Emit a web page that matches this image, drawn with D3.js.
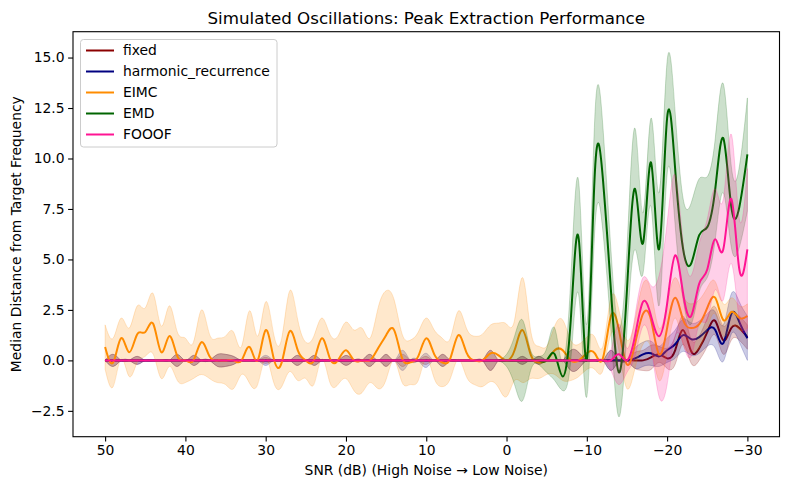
<!DOCTYPE html>
<html>
<head>
<meta charset="utf-8">
<script src="https://cdn.jsdelivr.net/npm/d3@7"></script>
<style>
  html, body { margin: 0; padding: 0; background: #fff; }
  svg { display: block; font-family: "DejaVu Sans", sans-serif; }
</style>
</head>
<body>
<svg id="chart" width="790" height="490"></svg>
<script>
// SNR grid (dB), high noise -> low noise
const snr = [50,49,48,47,46,45,44,43,42,41,40,39,38,37,36,35,34,33,32,31,30,29,28,27,26,25,24,23,22,21,20,19,18,17,16,15,14,13,12,11,10,9,8,7,6,5,4,3,2,1,0,-1,-2,-3,-4,-5,-6,-7,-8,-9,-10,-11,-12,-13,-14,-15,-16,-17,-18,-19,-20,-21,-22,-23,-24,-25,-26,-27,-28,-29,-30];

const methods = ["fixed", "harmonic_recurrence", "EIMC", "EMD", "FOOOF"];

// median distance from target frequency per method (index aligned with snr)
const fixedMed = [0,0,0,0,0,0,0,0,0,0, 0,0,0,0,0,0,0,0,0,0, 0,0,0,0,0,0,0,0,0,0, 0,0,0,0,0,0,0,0,0,0, 0,0,0,0,0,0,0,0,0,0, 0,0,0,0,0,0,0,0,0,0, 0,0,0,0,0,0,0,0,0.15,0.3, 0.1,0.5,1.5,0.45,0.6,1.4,1.95,1.0,1.6,1.6, 1.15];
const fixedSd = [0,0.3,0,0,0.2,0,0,0,0,0.3, 0,0.25,0,0,0.3,0.3,0.2,0,0,0, 0.15,0,0,0,0.25,0,0.25,0,0,0, 0.25,0,0,0.3,0,0.3,0,0.3,0,0, 0.2,0,0.3,0,0,0,0,0,0.5,0, 0,0,0.2,0,0.2,0,0,0,0.5,0.4, 0,0,0,0.5,0,0,0.4,0.5,0.6,0.4, 0.5,0.7,0.7,0.6,0.6,0.7,0.7,0.7,0.6,0.6, 0.6];

const harmMed = [0,0,0,0,0,0,0,0,0,0, 0,0,0,0,0,0,0,0,0,0, 0,0,0,0,0,0,0,0,0,0, 0,0,0,0,0,0,0,0,0,0, 0,0,0,0,0,0,0,0,0,0, 0,0,0,0,0,0,0,0,0,0, 0,0,0,0,0,0,0.1,0.3,0.35,0.2, 0.5,0.8,1.25,1.05,1.15,1.5,1.5,0.85,2.3,1.9, 1.1];
const harmSd = [0,0.3,0,0,0.2,0,0,0,0,0.3, 0,0.25,0,0,0.3,0.3,0.2,0,0,0, 0.25,0,0,0,0.25,0,0.25,0,0,0, 0.25,0,0,0.3,0,0.3,0,0.5,0,0, 0.35,0,0.3,0,0,0,0,0,0.5,0, 0,0,0.2,0,0.2,0,0,0,0.5,0.4, 0,0,0,0.5,0,0,0.5,0.6,0.6,0.5, 0.6,0.7,0.8,0.8,0.8,0.8,0.9,0.9,1.0,1.0, 1.1];

const eimcMed = [0.66,-0.1,1.1,0.4,1.3,1.4,1.8,0.4,1.2,0.2, 0,0,0.9,0.2,0,0,0,0,0.66,0, 1.5,0.1,-0.1,1.45,0.5,0,0,1.1,0.1,0, 0.5,0,0,0,0.6,1.25,1.5,0.1,-0.1,0.2, 1.1,0.3,-0.1,0.1,1.25,0.4,0,0,0.35,0.25, 0,0.5,1.5,0.3,-0.1,0,0.5,0.5,0,0, 0.35,0.35,0.1,2.2,1.5,-0.2,0.8,2.3,2.0,0.3, 1.6,3.1,2.0,1.6,1.8,2.6,3.1,2.0,2.4,2.1, 2.2];
const eimcSd = [1.1,1.2,1.0,1.2,1.4,1.2,1.5,1.3,1.5,1.2, 1.1,0.9,1.6,1.1,1.1,1.2,1.4,0.7,1.8,1.2, 1.4,1.2,1.2,2.0,1.5,0.9,1.2,1.0,1.2,1.2, 1.4,1.5,1.6,1.1,2.0,2.2,1.5,1.2,1.1,1.2, 1.0,1.2,1.2,1.0,1.2,1.2,1.2,1.3,1.4,1.6, 1.8,1.5,2.6,1.2,0.8,0.7,1.2,1.5,1.0,0.8, 0.8,0.8,0.6,0.9,1.0,1.2,1.2,1.5,1.4,1.3, 1.2,1.0,1.2,1.2,1.2,1.0,0.8,0.8,0.7,0.6, 0.6];

// EMD only reports values from 1 dB downwards (null = no value)
const emdMed = [null,null,null,null,null,null,null,null,null,null, null,null,null,null,null,null,null,null,null,null, null,null,null,null,null,null,null,null,null,null, null,null,null,null,null,null,null,null,null,null, null,null,null,null,null,null,null,null,null,0, 0,0,0,0,0,0,0.3,-0.8,2.0,6.0, 0.0,9.3,9.0,3.5,-0.6,3.5,8.5,5.8,9.8,5.5, 12.0,9.5,5.5,4.8,6.2,6.6,8.5,11.0,7.6,7.6, 10.2];
const emdSd = [null,null,null,null,null,null,null,null,null,null, null,null,null,null,null,null,null,null,null,null, null,null,null,null,null,null,null,null,null,null, null,null,null,null,null,null,null,null,null,null, null,null,null,null,null,null,null,null,null,0, 0.3,1.2,2.0,0.5,0.2,0.6,1.3,0.7,2.0,2.8, 1.8,2.8,2.6,2.0,2.2,2.0,3.0,1.5,2.2,2.8, 2.8,2.8,2.5,3.0,2.8,2.5,2.5,2.7,2.0,2.0, 2.8];

const fooofMed = [0,0,0,0,0,0,0,0,0,0, 0,0,0,0,0,0,0,0,0,0, 0,0,0,0,0,0,0,0,0,0, 0,0,0,0,0,0,0,0,0,0, 0,0,0,0,0,0,0,0,0,0, 0,0,0,0,0,0,0,0,0,0, 0,0,0,0,0.3,0.0,1.2,2.9,2.2,1.2, 2.8,5.2,3.3,2.2,3.8,4.5,6.0,5.5,8.0,4.5, 5.5];
const fooofSd = [0,0,0,0,0,0,0,0,0,0, 0,0,0,0,0,0,0,0,0,0, 0,0,0,0,0,0,0,0,0,0, 0,0,0,0,0,0,0,0,0,0, 0,0,0,0,0,0,0,0,0,0, 0,0,0,0,0,0,0,0,0,0, 0,0,0,0.5,1.5,0.6,1.0,1.2,1.5,3.0, 4.0,4.0,2.5,2.0,2.0,2.5,2.5,2.5,3.2,2.5, 4.0];

const xTicks = [50, 40, 30, 20, 10, 0, -10, -20, -30];
const yTicks = [-2.5, 0, 2.5, 5, 7.5, 10, 12.5, 15];

const colors = ["#8b0000", "#000080", "#ff8c00", "#006400", "#ff1493"];
const series = [
  { name: methods[0], med: fixedMed, sd: fixedSd, color: colors[0] },
  { name: methods[1], med: harmMed, sd: harmSd, color: colors[1] },
  { name: methods[2], med: eimcMed, sd: eimcSd, color: colors[2] },
  { name: methods[3], med: emdMed, sd: emdSd, color: colors[3] },
  { name: methods[4], med: fooofMed, sd: fooofSd, color: colors[4] }
];

const svg = d3.select("#chart");
const L = 73, R = 779.5, T = 31.7, B = 436.7;
const x = d3.scaleLinear().domain([54, -34]).range([L, R]);
const y = d3.scaleLinear().domain([-3.78, 16.28]).range([B, T]);
const fmtMinus = s => s.replace("-", "\u2212");

svg.append("defs").append("clipPath").attr("id", "plotclip")
  .append("rect").attr("x", L).attr("y", T).attr("width", R - L).attr("height", B - T);

const plot = svg.append("g").attr("clip-path", "url(#plotclip)");

series.forEach(s => {
  const pts = snr.map((d, i) => ({ x: d, m: s.med[i], sd: s.sd[i] }))
                 .filter(p => p.m !== null && p.m !== undefined);
  const area = d3.area()
    .x(p => x(p.x)).y0(p => y(p.m - p.sd)).y1(p => y(p.m + p.sd))
    .curve(d3.curveNatural);
  plot.append("path").attr("d", area(pts))
    .attr("fill", s.color).attr("fill-opacity", 0.2)
    .attr("stroke", s.color).attr("stroke-opacity", 0.2).attr("stroke-width", 1);
  const line = d3.line().x(p => x(p.x)).y(p => y(p.m)).curve(d3.curveNatural);
  plot.append("path").attr("d", line(pts))
    .attr("fill", "none").attr("stroke", s.color).attr("stroke-width", 2)
    .attr("stroke-linejoin", "round").attr("stroke-linecap", "butt");
});

// axes
const xAxis = d3.axisBottom(x).tickValues(xTicks).tickSize(4.9).tickPadding(3.5)
  .tickFormat(d => fmtMinus(d3.format("d")(d)));
const yAxis = d3.axisLeft(y).tickValues(yTicks).tickSize(4.9).tickPadding(3.5)
  .tickFormat(d => fmtMinus(d3.format(".1f")(d)));

const gx = svg.append("g").attr("transform", `translate(0,${B})`).call(xAxis);
const gy = svg.append("g").attr("transform", `translate(${L},0)`).call(yAxis);
[gx, gy].forEach(g => {
  g.select(".domain").remove();
  g.selectAll(".tick line").attr("stroke", "#000").attr("stroke-width", 1.1);
  g.selectAll(".tick text").attr("fill", "#000").attr("font-size", "13.9px")
    .attr("font-family", "DejaVu Sans, sans-serif");
});

// frame
svg.append("rect").attr("x", L).attr("y", T).attr("width", R - L).attr("height", B - T)
  .attr("fill", "none").attr("stroke", "#000").attr("stroke-width", 1.1);

// titles
svg.append("text").attr("x", (L + R) / 2).attr("y", 23.5).attr("text-anchor", "middle")
  .attr("font-size", "16.7px").attr("fill", "#000")
  .text("Simulated Oscillations: Peak Extraction Performance");
svg.append("text").attr("x", (L + R) / 2).attr("y", 475).attr("text-anchor", "middle")
  .attr("font-size", "13.9px").attr("fill", "#000")
  .text("SNR (dB) (High Noise \u2192 Low Noise)");
svg.append("text").attr("transform", `translate(21,${(T + B) / 2}) rotate(-90)`)
  .attr("text-anchor", "middle").attr("font-size", "13.9px").attr("fill", "#000")
  .text("Median Distance from Target Frequency");

// legend
const lg = svg.append("g");
lg.append("rect").attr("x", 80.5).attr("y", 39.5).attr("width", 196.5).attr("height", 107.5)
  .attr("rx", 3).attr("fill", "#fff").attr("fill-opacity", 0.8)
  .attr("stroke", "#cccccc").attr("stroke-width", 1);
series.forEach((s, i) => {
  const cy = 50.5 + i * 21;
  lg.append("line").attr("x1", 86).attr("x2", 114).attr("y1", cy).attr("y2", cy)
    .attr("stroke", s.color).attr("stroke-width", 2);
  lg.append("text").attr("x", 123).attr("y", cy).attr("dy", "0.35em")
    .attr("font-size", "13.9px").attr("fill", "#000").text(s.name);
});
</script>
</body>
</html>
